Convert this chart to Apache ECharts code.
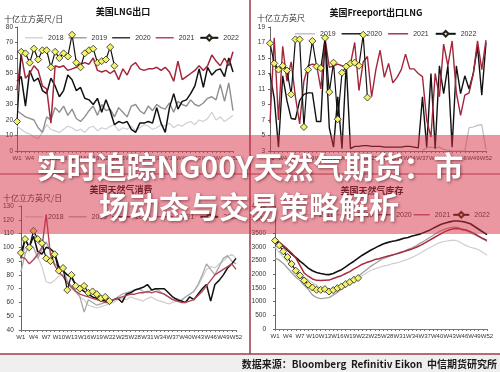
<!DOCTYPE html>
<html><head><meta charset="utf-8">
<script src="https://cdn.jsdelivr.net/npm/echarts@6/dist/echarts.min.js"></script>
<style>html,body{margin:0;padding:0;background:#fff}#c{width:500px;height:372px}</style>
</head><body><div id="c"></div>
<script>
// ---------- data ----------
const weeks = ['W1','W2','W3','W4','W5','W6','W7','W8','W9','W10','W11','W12','W13','W14','W15','W16','W17','W18','W19','W20','W21','W22','W23','W24','W25','W26','W27','W28','W29','W30','W31','W32','W33','W34','W35','W36','W37','W38','W39','W40','W41','W42','W43','W44','W45','W46','W47','W48','W49','W50','W51','W52'];

// Panel 1: US LNG exports (bcf/d)
const lng2018 = [16,14,12,11,9,8,12,17,14,13,12,14,16,15,13,14,12,15,16,13,15,14,16,17,13,15,14,16,13,15,17,16,14,15,17,16,18,15,17,16,18,19,17,20,19,21,25,20,22,19,21,23];
const lng2019 = [26,24,22,21,20,15,12,22,20,28,25,29,23,27,21,19,22,26,29,23,30,26,27,22,28,25,22,29,30,26,24,29,26,30,28,27,31,25,32,30,29,33,30,29,31,34,35,33,43,32,44,26];
const lng2020 = [45,48,29,52,45,47,39,37,47,42,35,39,49,46,39,41,34,33,30,34,25,33,26,17,19,18,19,14,12,18,18,19,18,28,18,12,28,37,27,32,33,37,42,53,41,54,49,52,53,48,60,51];
const lng2021 = [40,62,47,50,55,52,42,40,18,55,54,55,52,53,54,56,57,56,60,52,51,52,50,52,46,53,49,55,57,53,52,53,53,54,52,54,51,45,58,46,48,50,52,55,52,55,62,58,55,60,55,64];
const lng2022 = [19,64,63,57,66,59,65,65,54,64,60,63,61,75,57,54,63,65,66,57,58,59,67,55];

// Panel 2: Freeport LNG exports (bcf)
const fp2019 = [null,null,null,null,null,null,null,null,null,null,null,null,null,null,null,null,null,null,null,null,null,null,null,null,null,null,null,null,null,null,null,null,null,null,null,null,3.1,3.4,3.5,3.4,3.5,3.2,3.1,3.0,3.0,3.0,3.0,6.0,6.1,6.3,6.4,3.2];
const fp2020 = [13,9.8,3.5,12.7,9.5,7.2,7.1,9.5,10.3,10.5,10.5,6.8,6.8,17.5,6,3.5,10,3.3,14.3,3.3,3.6,3.6,3.7,3.7,3.6,3.6,3.6,3.5,3.5,3.5,3.5,3.5,3.6,3.6,3.5,3.4,10,3.5,13,3.3,14,10.4,14,3.5,14,10.4,12.7,11,13,16.5,10.2,17];
const fp2021 = [6.6,17.6,7,16.5,12,14.5,10,6.5,12,14,14.2,14.1,11,17.5,13.8,14,14.2,14,13.8,14.2,17,10.8,14.5,15.2,10,13.5,16,12.5,14.3,11.8,12.5,13.5,15.5,13.6,13.6,13,12.6,7,4.8,13,10,16.8,14,17.2,10.5,7.6,10.2,10.5,13,17.2,13.5,17.3];
const fp2022 = [16.9,14.3,13.5,14.0,13.4,10.3,17.4,17.4,6.1,13.5,17.2,13.9,13.7,17.6,10.6,14.4,7.1,13.1,13.9,14.3,14.4,14.0,18.0,9.9];

// Panel 3: US gas consumption (bcf/d)
const con2018 = [90,100,97,113,93,86,75,74,76,79,80,76,70,68,64,62,58,57,56,57,58,59,60,62,63,62,64,63,62,61,63,64,62,61,60,59,60,61,62,64,66,68,72,78,84,86,85,88,90,93,95,92];
const con2019 = [82,95,102,100,92,98,104,97,88,86,84,76,72,68,64,53,62,60,58,59,60,61,62,64,66,67,68,69,70,68,67,69,70,68,66,64,62,63,61,64,66,68,73,80,88,84,80,86,92,94,90,88];
const con2020 = [92,106,100,108,97,95,100,99,96,86,83,80,78,73,70,68,66,64,63,62,61,60,62,63,60,66,67,69,70,71,73,69,70,70,70,67,64,62,61,60,64,62,66,70,73,61,73,76,80,85,88,92];
const con2021 = [93,92,88,91,95,100,124,95,87,82,79,74,71,68,66,65,64,63,62,61,60,60,62,63,64,65,66,66,67,67,68,67,68,67,66,64,62,61,60,60,61,62,65,68,72,76,80,82,84,86,88,84];
const con2022 = [96,106,100,112,106,103,92,90,95,83,85,69,80,72,70,72,67,68,66,63,64,61];

// Panel 4: US gas storage (bcf)
const sto2018 = [3000,2800,2620,2450,2300,2150,2000,1900,1800,1700,1600,1480,1400,1350,1360,1380,1450,1550,1650,1760,1850,1950,2050,2150,2200,2250,2300,2330,2380,2410,2450,2500,2560,2620,2700,2780,2870,2960,3040,3120,3180,3210,3230,3250,3220,3130,3050,2990,2950,2900,2800,2700];
const sto2019 = [2600,2520,2400,2230,2060,1900,1770,1600,1450,1250,1150,1110,1130,1150,1240,1340,1460,1570,1690,1810,1920,2050,2170,2290,2390,2490,2570,2630,2690,2740,2800,2850,2910,2970,3050,3140,3230,3330,3420,3520,3600,3660,3700,3730,3720,3620,3600,3520,3450,3380,3300,3200];
const sto2020 = [3200,3120,3020,2890,2740,2620,2480,2360,2230,2130,2070,2030,2000,1990,2030,2100,2170,2270,2380,2480,2590,2700,2790,2880,2960,3040,3110,3160,3200,3230,3270,3320,3350,3400,3440,3480,3540,3600,3680,3760,3830,3880,3920,3950,3950,3930,3900,3850,3750,3650,3550,3450];
const sto2021 = [3250,3180,3050,2920,2780,2600,2330,2050,1930,1830,1780,1770,1780,1790,1850,1900,1950,2030,2100,2200,2280,2370,2430,2480,2540,2570,2620,2660,2700,2740,2780,2830,2880,2930,2990,3060,3140,3230,3320,3410,3490,3570,3630,3670,3680,3650,3620,3560,3490,3400,3310,3240];
const sto2022 = [3235,3063,2842,2635,2378,2132,1960,1776,1618,1518,1434,1434,1460,1371,1423,1496,1555,1643,1717,1801,1864];

// ---------- styling ----------
const FONT = '"Liberation Sans", Arial, "Noto Sans CJK SC", sans-serif';
const CJK = '"Noto Sans CJK SC", "Liberation Sans", sans-serif';
const C18 = '#cfcfcf', C19 = '#8f8f8f', C20 = '#111111', C21 = '#a3263a', C22m = '#f3f36a';
const LINE_ICON = 'path://M0,0H20V1.4H0Z';

function ln(name, data, gi, color, width, z) {
  return {name, type:'line', data, xAxisIndex:gi, yAxisIndex:gi, symbol:'none', connectNulls:false,
    lineStyle:{color, width}, itemStyle:{color}, z: z||2, animation:false, silent:true};
}
function ln22(name, data, gi) {
  return {name, type:'line', data, xAxisIndex:gi, yAxisIndex:gi, symbol:'diamond', symbolSize:7,
    showSymbol:true, showAllSymbol:true,
    lineStyle:{color:'#111', width:1.2}, itemStyle:{color:C22m, borderColor:'#222', borderWidth:0.8}, z:5, animation:false, silent:true};
}

const grids = [
  {left:17, top:27, width:216, height:124},
  {left:270, top:27, width:216, height:124},
  {left:20, top:206, width:216, height:124},
  {left:275, top:206, width:212, height:123}
];
function xa(gi) {
  return {type:'category', gridIndex:gi, data:weeks, boundaryGap:false,
    axisLine:{lineStyle:{color:'#777', width:1}},
    axisTick:{show:true, interval:0, length:2, lineStyle:{color:'#777'}},
    axisLabel:{interval:2, fontSize:6, margin:4, color:'#333', fontFamily:FONT},
    splitLine:{show:false}};
}
function ya(gi, min, max, interval, margin) {
  return {type:'value', gridIndex:gi, min, max, interval,
    axisLine:{show:true, lineStyle:{color:'#666', width:1}},
    axisTick:{show:true, length:2, lineStyle:{color:'#666'}},
    axisLabel:{fontSize:6.5, margin, color:'#333', fontFamily:FONT, formatter: v => String(v)},
    splitLine:{show:false}};
}
function lg(prefix, years, left, top, itemWidth, itemGap) {
  return {data: years.map(y => (y === '2022' ? {name: prefix + y} : {name: prefix + y, icon: LINE_ICON})),
    left, top, itemWidth, itemHeight:7, itemGap,
    selectedMode:false, formatter: n => n.slice(1),
    textStyle:{fontSize:7, color:'#333', fontFamily:FONT}};
}
function txt(text, x, y, size, bold, align, color, z) {
  return {type:'text', z:z||50, style:{text, x, y, fill:color||'#222',
    font:(bold?'bold ':'') + size + 'px ' + CJK, textAlign:align||'left', align:align||'left',
    textVerticalAlign:'middle', verticalAlign:'middle'}};
}
function hl(x1,y1,x2,y2,color,w){
  return {type:'line', z:60, shape:{x1,y1,x2,y2}, style:{stroke:color, lineWidth:w}};
}

const series = [
  ln('a2018', lng2018, 0, C18, 1.2), ln('a2019', lng2019, 0, C19, 1.4), ln('a2020', lng2020, 0, C20, 1.5), ln('a2021', lng2021, 0, C21, 1.5), ln22('a2022', lng2022, 0),
  ln('b2019', fp2019, 1, '#bdbdbd', 1.2), ln('b2020', fp2020, 1, C20, 1.4), ln('b2021', fp2021, 1, C21, 1.4), ln22('b2022', fp2022, 1),
  ln('c2018', con2018, 2, C18, 1.2), ln('c2019', con2019, 2, '#a8a8a8', 1.3), ln('c2020', con2020, 2, C20, 1.5), ln('c2021', con2021, 2, '#b24656', 1.4), ln22('c2022', con2022, 2),
  ln('d2018', sto2018, 3, C18, 1.2), ln('d2019', sto2019, 3, '#a0a0a0', 1.3), ln('d2020', sto2020, 3, C20, 1.6), ln('d2021', sto2021, 3, '#a82a3c', 1.5), ln22('d2022', sto2022, 3)
];

const chart = echarts.init(document.getElementById('c'), null, {renderer:'canvas'});
chart.setOption({
  animation:false,
  backgroundColor:'#ffffff',
  textStyle:{fontFamily:FONT},
  grid:grids,
  xAxis:[xa(0), xa(1), xa(2), xa(3)],
  yAxis:[ya(0,0,80,10,4), ya(1,3,19,2,5), ya(2,40,130,10,7), ya(3,0,4500,500,9)],
  legend:[
    lg('a', ['2018','2019','2020','2021','2022'], 20, 29, 18, 5),
    lg('b', ['2019','2020','2021','2022'], 290, 25, 20, 6),
    lg('c', ['2018','2019','2020','2021','2022'], 20, 208, 18, 5),
    lg('d', ['2018','2019','2020','2021','2022'], 293, 206, 16, 2)
  ],
  series,
  graphic:[
    txt('美国LNG出口', 123, 12, 9, true, 'center', '#111'),
    txt('十亿立方英尺/日', 4, 19, 8, false, 'left', '#333'),
    txt('美国Freeport出口LNG', 376, 13, 9, true, 'center', '#111'),
    txt('十亿立方英尺', 257, 18, 8, false, 'left', '#333'),
    txt('美国天然气消费', 121, 190, 9, true, 'center', '#111'),
    txt('十亿立方英尺/日', 3, 198, 8, false, 'left', '#333'),
    txt('美国天然气库存', 372, 191, 9, true, 'center', '#111'),
    hl(250, 0, 250, 354, '#9a3a46', 1.5),
    hl(0, 174, 500, 174, '#9a3a46', 1.2),
    hl(0, 354, 500, 354, '#9a3a46', 1.5),
    {type:'rect', z:55, shape:{x:0, y:355, width:500, height:17}, style:{fill:'#efefef'}},
    txt('数据来源：Bloomberg  Refinitiv Eikon  中信期货研究所', 497, 364, 10, true, 'right', '#1a1a1a', 70),
    {type:'rect', z:100, shape:{x:0, y:135, width:500, height:99}, style:{fill:'rgba(214,48,70,0.5)'}},
    {type:'text', z:110, style:{text:'实时追踪NG00Y天然气期货：市', x:250, y:167, fill:'#ffffff',
      font:'bold 30px "Noto Sans CJK SC", sans-serif', textAlign:'center', align:'center', textVerticalAlign:'middle', verticalAlign:'middle',
      textShadowColor:'rgba(60,0,10,0.55)', textShadowBlur:3, textShadowOffsetX:1, textShadowOffsetY:1,
      shadowColor:'rgba(60,0,10,0.55)', shadowBlur:3, shadowOffsetX:1, shadowOffsetY:1}},
    {type:'text', z:110, style:{text:'场动态与交易策略解析', x:249, y:207, fill:'#ffffff',
      font:'bold 30px "Noto Sans CJK SC", sans-serif', textAlign:'center', align:'center', textVerticalAlign:'middle', verticalAlign:'middle',
      textShadowColor:'rgba(60,0,10,0.55)', textShadowBlur:3, textShadowOffsetX:1, textShadowOffsetY:1,
      shadowColor:'rgba(60,0,10,0.55)', shadowBlur:3, shadowOffsetX:1, shadowOffsetY:1}}
  ]
});
</script></body></html>
